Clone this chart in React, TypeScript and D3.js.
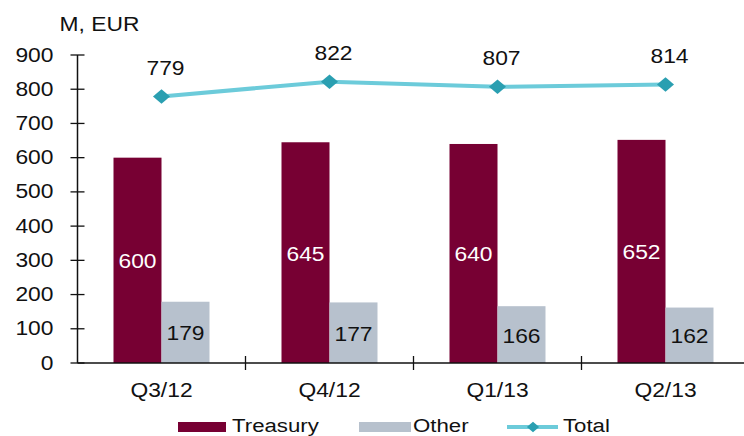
import React from "react";
import * as d3 from "d3";

const categories = ["Q3/12", "Q4/12", "Q1/13", "Q2/13"];
const treasury = [600, 645, 640, 652];
const other = [179, 177, 166, 162];
const total = [779, 822, 807, 814];
const yTicks = [0, 100, 200, 300, 400, 500, 600, 700, 800, 900];
const seriesNames = ["Treasury", "Other", "Total"];

const W = 744, H = 436;
const FONT = "'Liberation Sans', Arial, sans-serif";
const C_TREAS = "#770033";
const C_OTHER = "#B7C1CD";
const C_LINE = "#6CCBDA";
const C_MARK = "#2A9FB1";
const FS = 19.5;
const SX = 1.17;

function T({ x, y, anchor = "start", fill = "#111", fs = FS, children }: any) {
  return (
    <g transform={`translate(${x},${y}) scale(${SX},1)`}>
      <text x={0} y={0} fontSize={fs} textAnchor={anchor} fill={fill}>{children}</text>
    </g>
  );
}

export default function App() {
  const x0 = 77.5, x1 = 749.5;
  const x = d3.scaleBand<string>().domain(categories).range([x0, x1]).paddingInner(0).paddingOuter(0);
  const y = d3.scaleLinear().domain([0, 900]).range([363, 55]);
  const barW = 48;
  const cx = (c: string) => (x(c) as number) + x.bandwidth() / 2;
  const line = d3.line<number>().x((_, i) => cx(categories[i])).y((d) => y(d));
  const diamond = d3.symbol().type(d3.symbolSquare).size(125)();
  const diamondSmall = d3.symbol().type(d3.symbolSquare).size(64)();

  return (
    <svg width={W} height={H} style={{ position: "absolute", left: 0, top: 0, background: "#fff" }} fontFamily={FONT}>
      {/* y axis */}
      <T x={99.5} y={31} anchor="middle">M, EUR</T>
      <line x1={x0} x2={x0} y1={y(900)} y2={y(0)} stroke="#111" strokeWidth={1.5} />
      {yTicks.map((t) => (
        <g key={t}>
          <line x1={x0 - 7} x2={x0 + 7} y1={y(t)} y2={y(t)} stroke="#111" strokeWidth={1.3} />
          <T x={53.5} y={y(t) + 6.5} anchor="end">{t}</T>
        </g>
      ))}
      {/* bars */}
      {categories.map((c, i) => {
        const center = cx(c);
        const ht = y(0) - y(treasury[i]);
        const ho = y(0) - y(other[i]);
        return (
          <g key={c}>
            <rect x={center - barW} y={y(treasury[i])} width={barW} height={ht} fill={C_TREAS} />
            <rect x={center} y={y(other[i])} width={barW} height={ho} fill={C_OTHER} />
            <T x={center - barW / 2} y={y(treasury[i] / 2) + 8} anchor="middle" fill="#fff">{treasury[i]}</T>
            <T x={center + barW / 2} y={y(other[i] / 2) + 8} anchor="middle">{other[i]}</T>
          </g>
        );
      })}
      {/* x axis */}
      <line x1={x0} x2={W} y1={y(0)} y2={y(0)} stroke="#111" strokeWidth={1.5} />
      {categories.map((c, i) => (
        <g key={c}>
          {i > 0 && <line x1={x(c)} x2={x(c)} y1={y(0) - 7} y2={y(0) + 7} stroke="#111" strokeWidth={1.3} />}
          <T x={cx(c)} y={397} anchor="middle">{c}</T>
        </g>
      ))}
      {/* total line */}
      <path d={line(total) || ""} fill="none" stroke={C_LINE} strokeWidth={4} />
      {total.map((v, i) => (
        <g key={i}>
          <path d={diamond || ""} transform={`translate(${cx(categories[i])},${y(v)}) scale(1.08,0.92) rotate(45)`} fill={C_MARK} />
          <T x={cx(categories[i]) + 4} y={y(v) - 21.5} anchor="middle">{v}</T>
        </g>
      ))}
      {/* legend */}
      <rect x={178} y={422} width={48} height={10} fill={C_TREAS} />
      <T x={232} y={431.5} fs={19}>{seriesNames[0]}</T>
      <rect x={359} y={422} width={52} height={10} fill={C_OTHER} />
      <T x={413} y={431.5} fs={19}>{seriesNames[1]}</T>
      <line x1={507} x2={558} y1={427} y2={427} stroke={C_LINE} strokeWidth={4} />
      <path d={diamondSmall || ""} transform="translate(533,427) scale(1.08,0.92) rotate(45)" fill={C_MARK} />
      <T x={563} y={431.5} fs={19}>{seriesNames[2]}</T>
    </svg>
  );
}
